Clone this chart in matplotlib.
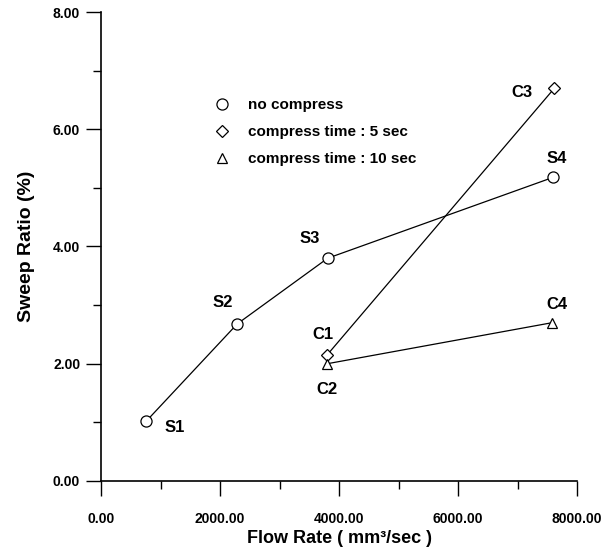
import matplotlib.pyplot as plt
from matplotlib.ticker import MultipleLocator, FormatStrFormatter

plt.rcParams['font.family'] = ['Liberation Sans', 'DejaVu Sans']
plt.rcParams['font.weight'] = 'bold'

# --- datos ---
s_flow = [760, 2290, 3810, 7600]
s_ratio = [1.02, 2.68, 3.80, 5.18]
s_names = ["S1", "S2", "S3", "S4"]

c5_flow = [3800, 7620]
c5_ratio = [2.15, 6.70]
c5_names = ["C1", "C3"]

c10_flow = [3800, 7580]
c10_ratio = [2.00, 2.70]
c10_names = ["C2", "C4"]

# desplazamientos de etiquetas (pixeles)
s_off = [(28, -6), (-15, 21), (-18, 20), (4, 19)]
c5_off = [(-4, 20), (-32, -4)]
c10_off = [(0, -26), (5, 18)]

fig = plt.figure(figsize=(6.10, 5.53), dpi=100)
ax = fig.add_axes([0.1656, 0.1302, 0.7803, 0.8481])

ax.plot(s_flow, s_ratio, color="black", lw=0.9, marker="o", ms=8,
        mfc="white", mec="black", mew=0.9, label="no compress")
ax.plot(c5_flow, c5_ratio, color="black", lw=0.9, marker="D", ms=6,
        mfc="white", mec="black", mew=0.9, label="compress time : 5 sec")
ax.plot(c10_flow, c10_ratio, color="black", lw=0.9, marker="^", ms=7,
        mfc="white", mec="black", mew=0.9, label="compress time : 10 sec")

for xs, ys, names, offs in [(s_flow, s_ratio, s_names, s_off),
                            (c5_flow, c5_ratio, c5_names, c5_off),
                            (c10_flow, c10_ratio, c10_names, c10_off)]:
    for x, y, n, o in zip(xs, ys, names, offs):
        ax.annotate(n, (x, y), xytext=o, textcoords="offset pixels",
                    ha="center", va="center", fontsize=12, fontweight="bold")

ax.set_xlim(0, 8000)
ax.set_ylim(0, 8)
ax.xaxis.set_major_locator(MultipleLocator(2000))
ax.xaxis.set_minor_locator(MultipleLocator(1000))
ax.yaxis.set_major_locator(MultipleLocator(2))
ax.yaxis.set_minor_locator(MultipleLocator(1))
ax.xaxis.set_major_formatter(FormatStrFormatter("%.2f"))
ax.yaxis.set_major_formatter(FormatStrFormatter("%.2f"))

for side in ["top", "right"]:
    ax.spines[side].set_visible(False)
ax.spines["left"].set_linewidth(1.2)
ax.spines["bottom"].set_linewidth(1.2)
ax.tick_params(which="major", direction="out", length=11, width=1.0, labelsize=10)
ax.tick_params(which="minor", direction="out", length=6, width=1.0)
ax.tick_params(axis="x", pad=11)
ax.tick_params(axis="y", pad=4)

ax.set_xlabel("Flow Rate ( mm³/sec )", fontsize=13, fontweight="bold", labelpad=3)
ax.set_ylabel("Sweep Ratio (%)", fontsize=14, fontweight="bold", labelpad=13)

leg = ax.legend(loc="upper left", bbox_to_anchor=(0.21, 0.845), frameon=False,
                fontsize=11, handlelength=1.0, handletextpad=1.2,
                labelspacing=0.85)
for h in leg.get_lines():
    h.set_linestyle("none")

fig.savefig("out.png", dpi=100)
